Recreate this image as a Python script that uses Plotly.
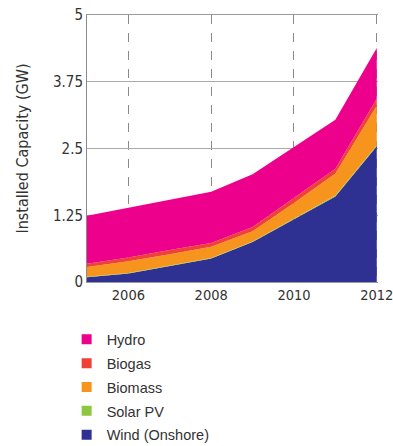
import plotly.graph_objects as go

years = [2005, 2006, 2007, 2008, 2009, 2010, 2011, 2012]
wind = [0.09, 0.16, 0.30, 0.44, 0.75, 1.18, 1.60, 2.54]
solar = [0.01, 0.01, 0.01, 0.01, 0.01, 0.015, 0.02, 0.02]
biomass = [0.18, 0.22, 0.21, 0.21, 0.19, 0.285, 0.41, 0.74]
biogas = [0.06, 0.07, 0.08, 0.07, 0.08, 0.09, 0.09, 0.13]
hydro = [0.90, 0.93, 0.94, 0.96, 0.99, 0.96, 0.92, 0.95]

series = [
    ("Wind (Onshore)", wind, "#2E3192"),
    ("Solar PV", solar, "#8DC63F"),
    ("Biomass", biomass, "#F7941D"),
    ("Biogas", biogas, "#EF4136"),
    ("Hydro", hydro, "#EC008C"),
]

ytickvals = [0, 1.25, 2.5, 3.75, 5]
yticktext = ["0", "1.25", "2.5", "3.75", "5"]
xtickvals = [2006, 2008, 2010, 2012]

FONT = "Liberation Sans Narrow, DejaVu Sans Condensed, Arial Narrow, sans-serif"

fig = go.Figure()
for name, vals, col in series:
    fig.add_trace(go.Scatter(
        x=years, y=vals, name=name, stackgroup="one", mode="lines",
        line=dict(width=0, color=col), fillcolor=col, showlegend=False,
        hoverinfo="skip"))
for name, vals, col in reversed(series):
    fig.add_trace(go.Scatter(
        x=[None], y=[None], name=name, mode="markers",
        marker=dict(symbol="square", size=10, color=col),
        legendgroup=name, showlegend=True))

fig.update_layout(
    width=393, height=446,
    margin=dict(l=87, r=15, t=15, b=164, autoexpand=False),
    paper_bgcolor="white", plot_bgcolor="white",
    font=dict(family=FONT, color="#333333", size=15),
    showlegend=True,
    legend=dict(
        x=-0.07, xanchor="left", y=-0.155, yanchor="top",
        traceorder="grouped", tracegroupgap=2,
        font=dict(family="Liberation Sans, Arial, sans-serif", size=14.5, color="#333333"),
        bgcolor="rgba(0,0,0,0)", itemwidth=30),
    xaxis=dict(
        range=[2005, 2012.03], tickvals=xtickvals, ticks="",
        ticklabeloverflow="allow",
        showgrid=True, gridcolor="#8a8a8a", griddash="dash", gridwidth=1,
        showline=True, mirror=True, linecolor="#9a9a9a", linewidth=1,
        zeroline=False, tickfont=dict(size=14.5, color="#333333")),
    yaxis=dict(
        range=[0, 5], tickvals=ytickvals, ticktext=yticktext, ticks="",
        showgrid=True, gridcolor="#aaaaaa", gridwidth=1,
        showline=True, linecolor="#8a8a8a", linewidth=1,
        zeroline=False, tickfont=dict(size=15, color="#333333"),
        title=dict(text="Installed Capacity (GW)", standoff=20,
                   font=dict(size=16, color="#333333"))),
)

fig.write_html("out.html")
